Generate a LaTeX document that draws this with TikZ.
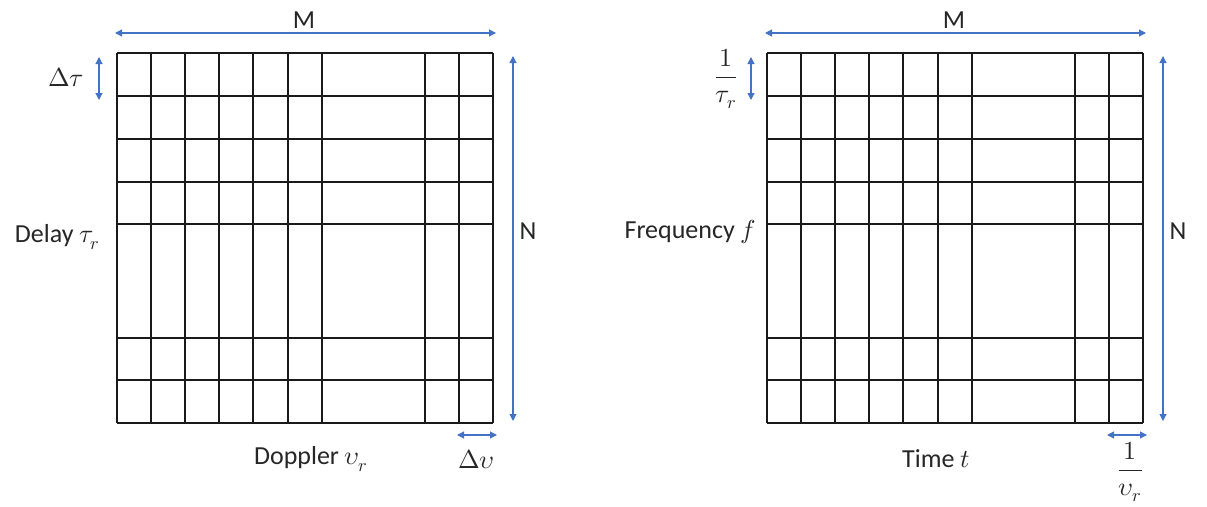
\documentclass[tikz,border=0pt]{standalone}
\usepackage{amsmath}
\usepackage{fontspec}
\usepackage{unicode-math}
\setmainfont{Carlito}
\setmathfont{Latin Modern Math}
\usetikzlibrary{arrows.meta}
\definecolor{arrowblue}{HTML}{4472C4}
\definecolor{gridline}{HTML}{1A1A1A}
\tikzset{
  gridl/.style={draw=gridline, line width=1.3pt},
  dim/.style={draw=arrowblue, line width=1.1pt, {Triangle[length=7pt,width=7pt]}-{Triangle[length=7pt,width=7pt]}},
  lbl/.style={font=\fontsize{26}{30}\selectfont, inner sep=0pt, text=black!85},
}
\begin{document}
\begin{tikzpicture}[x=1pt,y=-1pt]
\useasboundingbox (0,0) rectangle (1207,506);
% ---------- left grid ----------
\foreach \x in {117,151,185,219,253,288,322,425,459,493}
  \draw[gridl] (\x,53) -- (\x,423);
\foreach \y in {53,96,139,182,224,338,380,423}
  \draw[gridl] (117,\y) -- (493,\y);
% ---------- right grid ----------
\foreach \x in {767,801,835,869,903,938,972,1075,1109,1143}
  \draw[gridl] (\x,53) -- (\x,423);
\foreach \y in {53,96,139,182,224,338,380,423}
  \draw[gridl] (767,\y) -- (1143,\y);
% ---------- left dimension arrows ----------
\coordinate (mLa) at (115,33); \coordinate (mLb) at (496,33);
\draw[dim] (mLa) -- (mLb);
\node[lbl] (ML) at (304,20) {M};
\coordinate (nLa) at (513,56); \coordinate (nLb) at (513,421);
\draw[dim] (nLa) -- (nLb);
\node[lbl] (NL) at (528,231) {N};
\coordinate (dtA) at (99,57); \coordinate (dtB) at (99,100);
\draw[dim] (dtA) -- (dtB);
\node[lbl] (dtL) at (66,77) {$\Delta\tau$};
\coordinate (dvA) at (457,435); \coordinate (dvB) at (497,435);
\draw[dim] (dvA) -- (dvB);
\node[lbl] (dvL) at (476,459) {$\Delta\upsilon$};
\node[lbl, anchor=east] (delay) at (100,237) {Delay $\tau_r$};
\node[lbl] (doppler) at (311,459) {Doppler $\upsilon_r$};
% ---------- right dimension arrows ----------
\coordinate (mRa) at (765,33); \coordinate (mRb) at (1146,33);
\draw[dim] (mRa) -- (mRb);
\node[lbl] (MR) at (954,20) {M};
\coordinate (nRa) at (1163,56); \coordinate (nRb) at (1163,421);
\draw[dim] (nRa) -- (nRb);
\node[lbl] (NR) at (1178,231) {N};
\coordinate (ftA) at (751,57); \coordinate (ftB) at (751,100);
\draw[dim] (ftA) -- (ftB);
\node[lbl] (ftL) at (726,79) {$\dfrac{1}{\tau_r}$};
\coordinate (tvA) at (1107,435); \coordinate (tvB) at (1147,435);
\draw[dim] (tvA) -- (tvB);
\node[lbl] (tvL) at (1130,472) {$\dfrac{1}{\upsilon_r}$};
\node[lbl, anchor=east] (freq) at (756,232) {Frequency $f$};
\node[lbl] (time) at (936,459) {Time $t$};
\end{tikzpicture}
\end{document}
